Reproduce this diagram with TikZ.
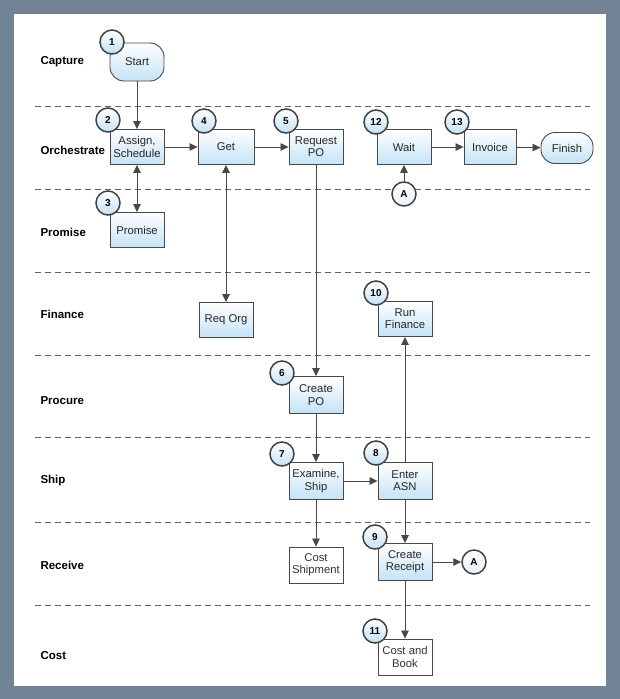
\documentclass[tikz,border=0pt]{standalone}
\usepackage{fontspec}
\setmainfont{Liberation Sans}
\usetikzlibrary{arrows.meta}

\definecolor{frame}{RGB}{113,131,148}
\definecolor{boxblue}{RGB}{196,226,246}
\definecolor{edge}{RGB}{72,72,72}

\begin{document}
\begin{tikzpicture}[x=1pt,y=-1pt,
    task/.style={draw=edge, line width=0.9pt, top color=white, bottom color=boxblue,
      minimum width=54pt, minimum height=35pt, inner sep=1pt, align=center,
      text=black!85, font=\fontsize{11.3}{12.3}\selectfont},
    plaintask/.style={draw=edge, line width=0.9pt, fill=white,
      minimum width=54pt, minimum height=36pt, inner sep=1pt, align=center,
      text=black!80, font=\fontsize{11.3}{12.3}\selectfont},
    term/.style={task, rounded corners=14pt},
    num/.style={circle, draw=edge!90!black, line width=1.5pt, top color=white, bottom color=boxblue,
      minimum size=24pt, inner sep=0pt, font=\bfseries\fontsize{10}{10}\selectfont},
    conn/.style={num, top color=white, bottom color=boxblue!40},
    lane/.style={anchor=west, font=\bfseries\fontsize{11.5}{12}\selectfont},
    flow/.style={draw=edge, line width=0.8pt, -{Triangle[length=8pt,width=7.5pt]}},
    dflow/.style={draw=edge, line width=0.8pt, {Triangle[length=8pt,width=7.5pt]}-{Triangle[length=8pt,width=7.5pt]}},
    divider/.style={draw=edge!85, line width=0.8pt, dash pattern=on 6pt off 4pt}
  ]

    % Frame
    \useasboundingbox (0,0) rectangle (620,699);
    \fill[frame] (0,0) rectangle (620,699);
    \fill[white] (14,14) rectangle (606,686);

    % Lane dividers
    \foreach \y in {106,189,272,355,437,522,605}
        \draw[divider] (35,\y) -- (590,\y);

    % Lane labels
    \node[lane] (lcapture) at (37, 62) {Capture};
    \node[lane] (lorch)    at (37,150) {Orchestrate};
    \node[lane] (lpromise) at (37,232) {Promise};
    \node[lane] (lfinance) at (37,314) {Finance};
    \node[lane] (lprocure) at (37,401) {Procure};
    \node[lane] (lship)    at (37,481) {Ship};
    \node[lane] (lreceive) at (37,565) {Receive};
    \node[lane] (lcost)    at (37,656) {Cost};

    % Tasks
    \node[term, minimum height=38pt] (start) at (137, 62) {Start};
    \node[task] (assign)   at (137,147) {Assign,\\Schedule};
    \node[task, minimum width=56pt] (get) at (226,147) {Get};
    \node[task] (reqpo)    at (316,147) {Request\\PO};
    \node[task] (wait)     at (404,147) {Wait};
    \node[task, minimum width=52pt] (invoice) at (490,147) {Invoice};
    \node[term, minimum width=52pt, minimum height=31pt] (finish) at (567,148) {Finish};
    \node[task] (promise)  at (137,230) {Promise};
    \node[task] (reqorg)   at (226,320) {Req Org};
    \node[task] (runfin)   at (405,319) {Run\\Finance};
    \node[task, minimum height=37pt] (createpo) at (316,395) {Create\\PO};
    \node[task, minimum height=37pt] (examine)  at (316,481) {Examine,\\Ship};
    \node[task, minimum height=37pt] (enterasn) at (405,481) {Enter\\ASN};
    \node[plaintask] (costship) at (316,565) {Cost\\Shipment};
    \node[task, minimum height=37pt] (receipt)  at (405,562) {Create\\Receipt};
    \node[plaintask] (costbook) at (405,657) {Cost and\\Book};

    % Off-page connectors
    \node[conn] (aup)   at (404,194) {A};
    \node[conn] (adown) at (474,562) {A};

    % Flows
    \draw[flow]  (start) -- (assign);
    \draw[dflow] (assign) -- (promise);
    \draw[flow]  (assign) -- (get);
    \draw[flow]  (get) -- (reqpo);
    \draw[dflow] (get) -- (reqorg);
    \draw[flow]  (reqpo) -- (createpo);
    \draw[flow]  (createpo) -- (examine);
    \draw[flow]  (examine) -- (enterasn);
    \draw[flow]  (examine) -- (costship);
    \draw[flow]  (enterasn) -- (runfin);
    \draw[flow]  (enterasn) -- (receipt);
    \draw[flow]  (receipt) -- (adown);
    \draw[flow]  (receipt) -- (costbook);
    \draw[flow]  (aup) -- (wait);
    \draw[flow]  (wait) -- (invoice);
    \draw[flow]  (invoice) -- (finish);

    % Step numbers
    \node[num] (n1)  at (112, 42) {1};
    \node[num] (n2)  at (108,120) {2};
    \node[num] (n3)  at (108,203) {3};
    \node[num] (n4)  at (204,121) {4};
    \node[num] (n5)  at (286,121) {5};
    \node[num] (n6)  at (282,373) {6};
    \node[num] (n7)  at (282,454) {7};
    \node[num] (n8)  at (376,453) {8};
    \node[num] (n9)  at (375,537) {9};
    \node[num] (n10) at (376,293) {10};
    \node[num] (n11) at (375,631) {11};
    \node[num] (n12) at (376,122) {12};
    \node[num] (n13) at (457,122) {13};

\end{tikzpicture}
\end{document}
